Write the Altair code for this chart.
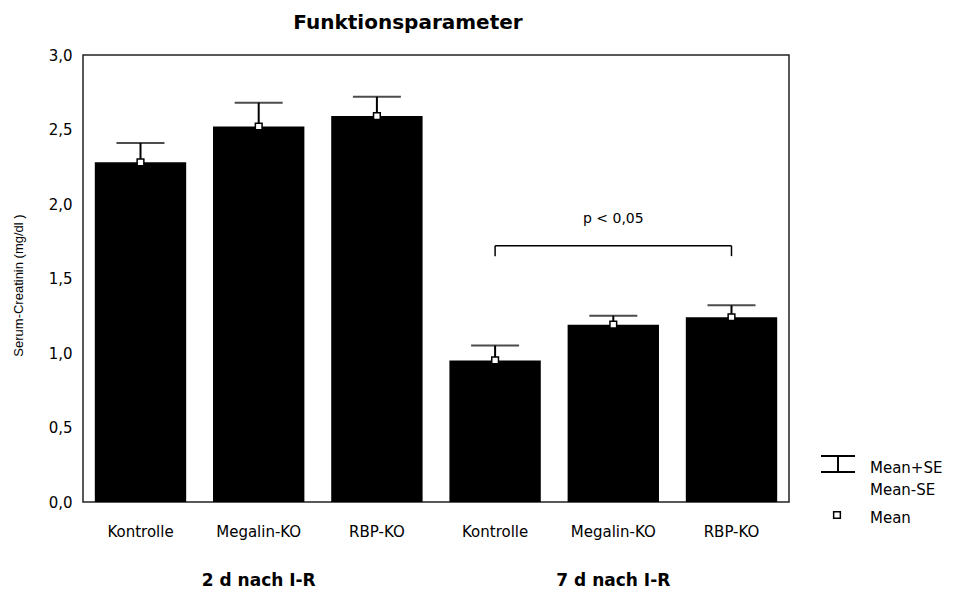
import altair as alt
import pandas as pd

# ---- data ----
groups = ["2 d nach I-R", "2 d nach I-R", "2 d nach I-R",
          "7 d nach I-R", "7 d nach I-R", "7 d nach I-R"]
conditions = ["Kontrolle", "Megalin-KO", "RBP-KO",
              "Kontrolle", "Megalin-KO", "RBP-KO"]
means = [2.28, 2.52, 2.59, 0.95, 1.19, 1.24]
se = [0.13, 0.16, 0.13, 0.10, 0.06, 0.08]
y_ticks = [0.0, 0.5, 1.0, 1.5, 2.0, 2.5, 3.0]
sig_text = "p < 0,05"
sig_y = 1.90
bracket_y = 1.72
bracket_end_y = 1.65
legend_labels = ["Mean+SE", "Mean-SE", "Mean"]

ids = [f"{g}|{c}" for g, c in zip(groups, conditions)]
df = pd.DataFrame({
    "id": ids,
    "group": groups,
    "cond": conditions,
    "mean": means,
    "upper": [m + s for m, s in zip(means, se)],
})

FONT = "DejaVu Sans"
xscale = alt.Scale(domain=ids, paddingInner=0.227, paddingOuter=0.1)
yscale = alt.Scale(domain=[0, 3])

x_enc = alt.X(
    "id:N", scale=xscale, title=None,
    axis=alt.Axis(labelExpr="split(datum.label, '|')[1]", ticks=False,
                  domain=False, labelAngle=0, labelFont=FONT, labelFontSize=15,
                  labelColor="black", labelPadding=29, labelBaseline="middle"))
y_enc = alt.Y(
    "mean:Q", scale=yscale, title="Serum-Creatinin (mg/dl )",
    axis=alt.Axis(values=y_ticks, grid=False, ticks=False, domain=False,
                  labelExpr="replace(format(datum.value, '.1f'), '.', ',')",
                  labelFont=FONT, labelFontSize=15, labelColor="black",
                  labelPadding=11, titleFont="Liberation Sans", titleFontSize=13,
                  titleFontWeight="normal", titleColor="black",
                  titleX=-65, titleY=230, titleAlign="center",
                  titleBaseline="middle", titleAngle=270))

base = alt.Chart(df)
bars = base.mark_bar(color="black").encode(x=x_enc, y=y_enc)
stems = base.mark_rule(color="black", strokeWidth=2).encode(
    x=alt.X("id:N", scale=xscale), y=alt.Y("mean:Q", scale=yscale), y2="upper:Q")
caps = base.mark_tick(color="black", size=48, thickness=2).encode(
    x=alt.X("id:N", scale=xscale), y=alt.Y("upper:Q", scale=yscale))
pts = base.mark_point(shape="square", filled=True, fill="white", stroke="black",
                      strokeWidth=1.5, size=45, opacity=1).encode(
    x=alt.X("id:N", scale=xscale), y=alt.Y("mean:Q", scale=yscale))

# significance bracket
bdf = pd.DataFrame({"x1": [ids[3]], "x2": [ids[5]], "y": [bracket_y]})
bracket = alt.Chart(bdf).mark_rule(color="black", strokeWidth=1.5).encode(
    x=alt.X("x1:N", scale=xscale), x2="x2:N", y=alt.Y("y:Q", scale=yscale))
edf = pd.DataFrame({"x": [ids[3], ids[5]], "y": [bracket_end_y] * 2,
                    "y2": [bracket_y] * 2})
bracket_ends = alt.Chart(edf).mark_rule(color="black", strokeWidth=1.5).encode(
    x=alt.X("x:N", scale=xscale), y=alt.Y("y:Q", scale=yscale), y2="y2:Q")
tdf = pd.DataFrame({"x": [ids[4]], "y": [sig_y], "t": [sig_text]})
sig = alt.Chart(tdf).mark_text(font=FONT, fontSize=14, color="black").encode(
    x=alt.X("x:N", scale=xscale), y=alt.Y("y:Q", scale=yscale), text="t:N")

# group labels below the category labels
gdf = pd.DataFrame({"x": [ids[1], ids[4]], "t": [groups[1], groups[4]]})
glabels = alt.Chart(gdf).mark_text(font=FONT, fontSize=17, fontWeight="bold",
                                   color="black", baseline="middle").encode(
    x=alt.X("x:N", scale=xscale), y=alt.value(526), text="t:N")

# legend (drawn to the right of the plot)
one = pd.DataFrame({"a": [0]})
leg_top = alt.Chart(one).mark_rule(color="black", strokeWidth=2).encode(
    x=alt.value(738), x2=alt.value(772), y=alt.value(401))
leg_bot = alt.Chart(one).mark_rule(color="black", strokeWidth=2).encode(
    x=alt.value(738), x2=alt.value(772), y=alt.value(417))
leg_stem = alt.Chart(one).mark_rule(color="black", strokeWidth=2).encode(
    x=alt.value(755), y=alt.value(401), y2=alt.value(417))
leg_sq = alt.Chart(one).mark_point(shape="square", filled=True, fill="white",
                                   stroke="black", strokeWidth=1.5, size=45,
                                   opacity=1).encode(
    x=alt.value(754), y=alt.value(460))
leg_t1 = alt.Chart(one).mark_text(font=FONT, fontSize=15, align="left",
                                  baseline="middle", color="black").encode(
    x=alt.value(787), y=alt.value(412.7), text=alt.value(legend_labels[0]))
leg_t2 = alt.Chart(one).mark_text(font=FONT, fontSize=15, align="left",
                                  baseline="middle", color="black").encode(
    x=alt.value(787), y=alt.value(435), text=alt.value(legend_labels[1]))
leg_t3 = alt.Chart(one).mark_text(font=FONT, fontSize=15, align="left",
                                  baseline="middle", color="black").encode(
    x=alt.value(787), y=alt.value(463), text=alt.value(legend_labels[2]))

chart = alt.layer(
    bars, stems, caps, pts, bracket, bracket_ends, sig, glabels,
    leg_top, leg_bot, leg_stem, leg_sq, leg_t1, leg_t2, leg_t3
).properties(
    width=706, height=447,
    title=alt.TitleParams("Funktionsparameter", font=FONT, fontSize=20,
                          fontWeight="bold", color="black", anchor="middle",
                          dx=-28, baseline="middle", offset=5),
    autosize=alt.AutoSizeParams(type="none"),
    padding={"left": 83, "top": 55, "right": 176, "bottom": 97},
).configure(
    background="white"
).configure_view(
    stroke="#222", strokeWidth=1.5
)

chart.save("out.html", embed_options={"renderer": "svg", "actions": False})
